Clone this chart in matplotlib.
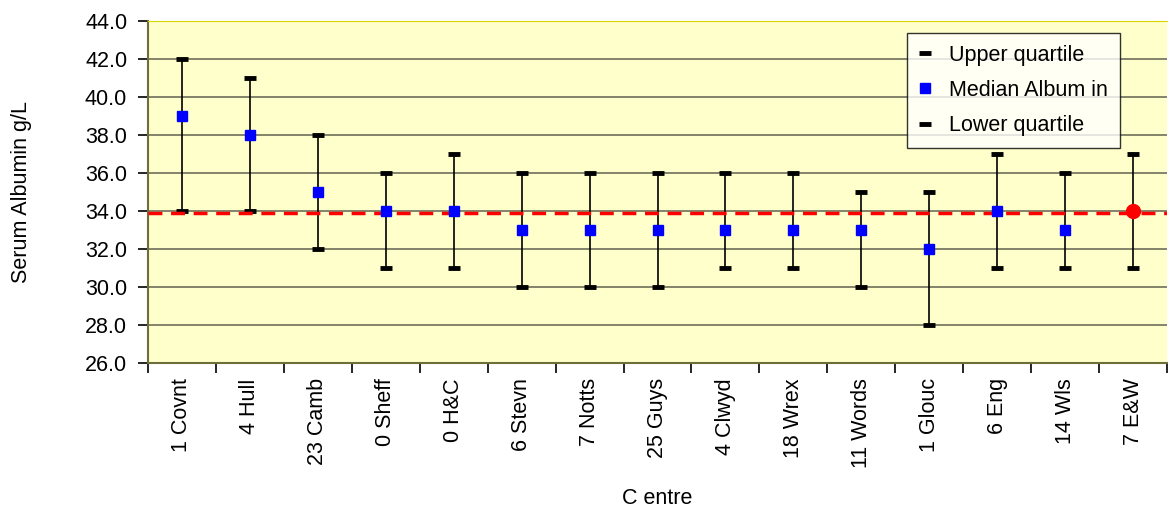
import matplotlib
matplotlib.use("Agg")
import matplotlib.pyplot as plt
import numpy as np

plt.rcParams['font.family'] = ['Liberation Sans', 'DejaVu Sans']

centres = ["1 Covnt", "4 Hull", "23 Camb", "0 Sheff", "0 H&C", "6 Stevn", "7 Notts",
           "25 Guys", "4 Clwyd", "18 Wrex", "11 Words", "1 Glouc", "6 Eng", "14 Wls", "7 E&W"]
upper = [42, 41, 38, 36, 37, 36, 36, 36, 36, 36, 35, 35, 37, 36, 37]
median = [39, 38, 35, 34, 34, 33, 33, 33, 33, 33, 33, 32, 34, 33, 34]
lower = [34, 34, 32, 31, 31, 30, 30, 30, 31, 31, 30, 28, 31, 31, 31]
national_median = 33.9

fs = 15.5

fig = plt.figure(figsize=(11.68, 5.07), dpi=100)
ax = fig.add_axes([148/1168, (507-363)/507, 1019/1168, 342/507])
ax.set_facecolor("#FFFFCC")

x = np.arange(len(centres))
ax.set_xlim(-0.5, len(centres) - 0.5)
ax.set_ylim(26, 44)

# grid
yt = np.arange(26, 44.1, 2)
ax.set_yticks(yt)
ax.set_yticklabels([f"{v:.1f}" for v in yt], fontsize=fs)
ax.yaxis.grid(True, color="#6E6E5A", lw=1.2)
ax.set_axisbelow(True)

# whiskers
ax.vlines(x, lower, upper, color="black", lw=1.2, zorder=2)
ax.plot(x, upper, ls="none", marker="_", ms=8.5, mew=3.5, color="black", zorder=3,
        label="Upper quartile")
ax.plot(x[:-1], median[:-1], ls="none", marker="s", ms=6.5, color="#0000FF", zorder=4,
        label="Median Album in")
ax.plot(x, lower, ls="none", marker="_", ms=8.5, mew=3.5, color="black", zorder=3,
        label="Lower quartile")
ax.plot(x[-1:], median[-1:], ls="none", marker="o", ms=10, color="#FF0000", zorder=5)

ax.axhline(national_median, color="#FF0000", ls=(0, (4, 2.5)), lw=2.5, zorder=3)

# x ticks between categories
ax.set_xticks(np.arange(-0.5, len(centres), 1))
ax.set_xticklabels([])
ax.set_xticks(x, minor=True)
ax.set_xticklabels(centres, minor=True, rotation=90, fontsize=fs)
ax.tick_params(axis="x", which="minor", length=0, pad=11)
ax.tick_params(axis="x", which="major", length=7, width=1.2)
ax.tick_params(axis="y", length=7, width=1.2, pad=8)

for s in ["left", "bottom"]:
    ax.spines[s].set_color("#6E6E3A")
    ax.spines[s].set_linewidth(1.5)
ax.spines["top"].set_color("#D8D800")
ax.spines["right"].set_visible(False)

ax.set_ylabel("Serum Albumin g/L", fontsize=fs, labelpad=38)
ax.set_xlabel("C entre", fontsize=fs, labelpad=14)

leg = ax.legend(loc="upper right", bbox_to_anchor=(0.954, 0.965), borderaxespad=0,
                fontsize=fs, frameon=True, fancybox=False, edgecolor="black",
                handlelength=0.5, handletextpad=0.9, borderpad=0.55, labelspacing=0.66)
leg.get_frame().set_linewidth(1.0)

fig.savefig("out.png", dpi=100)
